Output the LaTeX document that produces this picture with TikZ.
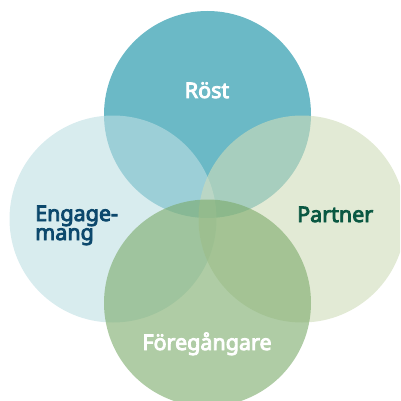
\documentclass[tikz,border=0pt]{standalone}
\usepackage{fontspec}
\setmainfont{Noto Sans}[BoldFont={Noto Sans}, BoldFeatures={FakeBold=4}]
\definecolor{rostcol}{RGB}{107,185,198}
\definecolor{engcol}{RGB}{190,223,227}
\definecolor{partcol}{RGB}{207,220,185}
\definecolor{forecol}{RGB}{122,170,105}
\definecolor{engtext}{RGB}{12,72,108}
\definecolor{parttext}{RGB}{10,88,66}
\tikzset{
	ring/.style={fill opacity=0.6},
	lbl/.style={font=\bfseries\fontsize{21.5}{19}\selectfont, inner sep=0pt}
}
\begin{document}
\begin{tikzpicture}[x=1pt,y=-1pt]
	\useasboundingbox (0,0) rectangle (400,401);
	\clip (0,0) rectangle (400,401);
	\fill[rostcol] (207.5,114.5) circle (103.5);
	\fill[engcol,ring] (113,219) circle (103.5);
	\fill[partcol,ring] (302,219) circle (103.5);
	\fill[forecol,ring] (207.5,303) circle (103.5);

	\node[lbl,white,anchor=base] (rost) at (207,98) {Röst};
	\node[lbl,engtext,anchor=base west,align=left] (eng) at (35,240) {Engage-\\mang};
	\node[lbl,parttext,anchor=base west] (partner) at (297,222) {Partner};
	\node[lbl,white,anchor=base] (fore) at (207,350) {Föregångare};
\end{tikzpicture}
\end{document}
